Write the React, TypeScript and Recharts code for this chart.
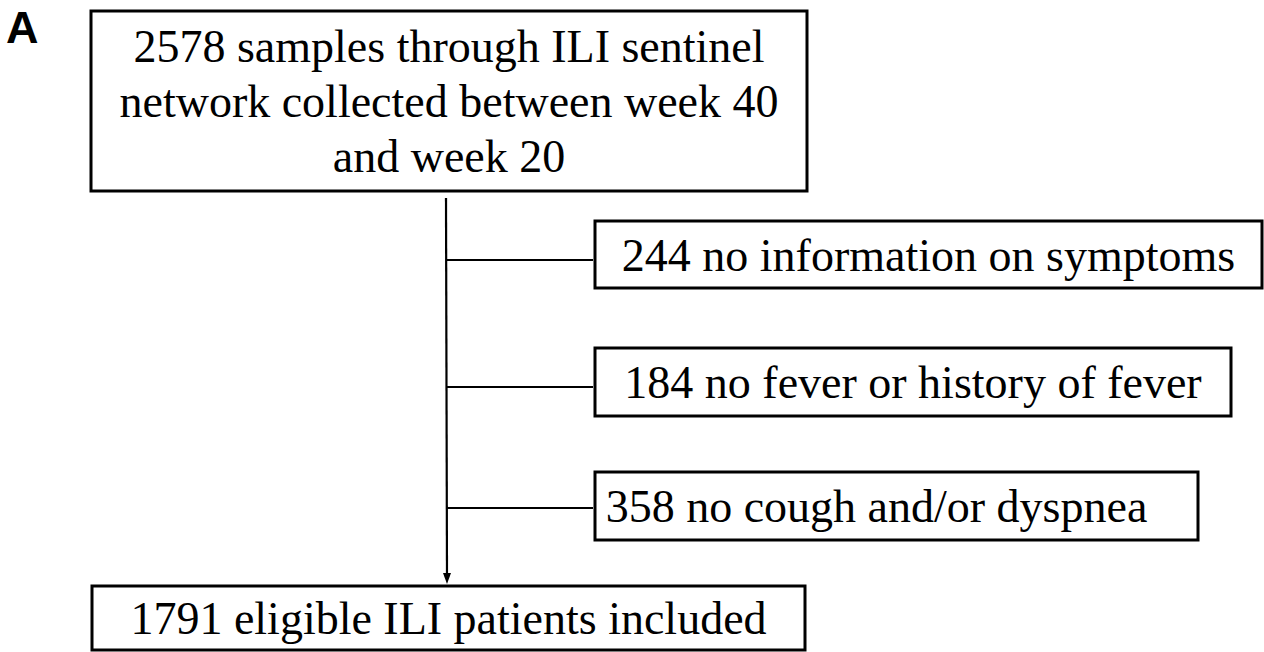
/**
 * IliFlowChart — participant flow diagram (panel A) drawn on a Recharts canvas.
 *
 * Boxes are ReferenceAreas, connectors are ReferenceLine segments, all placed
 * in a pixel-like data space through hidden number axes.
 */

import React from "react";
import {
  ComposedChart,
  XAxis,
  YAxis,
  ReferenceArea,
  ReferenceLine,
  ReferenceDot,
} from "recharts";

const WIDTH = 1264;
const HEIGHT = 652;

// ---- data -----------------------------------------------------------------
const PANEL_LABEL = "A";
const SOURCE_COUNT = 2578;
const SOURCE_TEXT = [
  "samples through ILI sentinel",
  "network collected between week 40",
  "and week 20",
];
const EXCLUDED_COUNTS = [244, 184, 358];
const EXCLUDED_REASONS = [
  "no information on symptoms",
  "no fever or history of fever",
  "no cough and/or dyspnea",
];
const INCLUDED_COUNT = 1791;
const INCLUDED_TEXT = "eligible ILI patients included";

// ---- layout (data space = pixels) ------------------------------------------
const TOP_BOX = { x1: 91, x2: 807, y1: 11, y2: 191 };
const BOTTOM_BOX = { x1: 92, x2: 805, y1: 586, y2: 650 };
const SIDE_BOXES = [
  { x1: 595, x2: 1262, y1: 221, y2: 288, branchY: 260, dx: 0 },
  { x1: 595, x2: 1231, y1: 348, y2: 416, branchY: 387, dx: 0 },
  { x1: 595, x2: 1198, y1: 472, y2: 540, branchY: 508, dx: -20 },
];
const TRUNK_X = 446;
const TRUNK_TOP = 198;
const ARROW_TIP = 584;
const BRANCH_END = 593;

const SERIF = "'Liberation Serif', 'Times New Roman', serif";
const FONT_SIZE = 46;
const LINE_GAP = 55;

type ViewBox = { x: number; y: number; width: number; height: number };

function BoxText({ viewBox, lines, dx = 0 }: { viewBox?: ViewBox; lines: string[]; dx?: number }) {
  if (!viewBox) return null;
  const cx = viewBox.x + viewBox.width / 2 + dx;
  const cy = viewBox.y + viewBox.height / 2;
  return (
    <text
      textAnchor="middle"
      style={{ fontFamily: SERIF, fontSize: FONT_SIZE }}
      fill="#000"
    >
      {lines.map((l, i) => (
        <tspan key={i} x={cx} y={cy + (i - (lines.length - 1) / 2) * LINE_GAP + 16}>
          {l}
        </tspan>
      ))}
    </text>
  );
}

function ArrowLine(props: any) {
  const { x1, y1, x2, y2 } = props;
  return (
    <g>
      <line x1={x1} y1={y1} x2={x2} y2={y2 - 6} stroke="#000" strokeWidth={2.2} />
      <polygon points={`${x2 - 4},${y2 - 11} ${x2 + 4},${y2 - 11} ${x2},${y2}`} fill="#000" />
    </g>
  );
}

const boxStyle = { fill: "#fff", fillOpacity: 1, stroke: "#000", strokeWidth: 3 };

export default function App() {
  const sourceLines = [`${SOURCE_COUNT} ${SOURCE_TEXT[0]}`, ...SOURCE_TEXT.slice(1)];

  return (
    <div style={{ width: WIDTH, height: HEIGHT, background: "#fff" }}>
      <style>{`body{margin:0}`}</style>
      <ComposedChart
        width={WIDTH}
        height={HEIGHT}
        data={[]}
        margin={{ top: 0, right: 0, bottom: 0, left: 0 }}
      >
        <XAxis type="number" dataKey="x" domain={[0, WIDTH]} hide allowDataOverflow />
        <YAxis type="number" dataKey="y" domain={[0, HEIGHT]} reversed hide allowDataOverflow />

        <ReferenceDot
          x={6}
          y={43}
          r={0}
          fill="none"
          stroke="none"
          label={(p: any) => (
            <text
              x={p.viewBox.x}
              y={p.viewBox.y}
              style={{
                fontFamily: "'Liberation Sans', Arial, sans-serif",
                fontWeight: 700,
                fontSize: 45,
              }}
              fill="#000"
            >
              {PANEL_LABEL}
            </text>
          )}
        />

        {/* trunk with arrow */}
        <ReferenceLine
          segment={[
            { x: TRUNK_X, y: TRUNK_TOP },
            { x: TRUNK_X + 1, y: ARROW_TIP },
          ]}
          shape={ArrowLine}
        />

        {/* branches */}
        {SIDE_BOXES.map((b, i) => (
          <ReferenceLine
            key={`br-${i}`}
            segment={[
              { x: TRUNK_X + 1, y: b.branchY },
              { x: BRANCH_END, y: b.branchY },
            ]}
            stroke="#000"
            strokeWidth={2.2}
          />
        ))}

        <ReferenceArea
          {...TOP_BOX}
          {...boxStyle}
          label={(p: any) => <BoxText viewBox={p.viewBox} lines={sourceLines} />}
        />

        {SIDE_BOXES.map((b, i) => (
          <ReferenceArea
            key={`sb-${i}`}
            x1={b.x1}
            x2={b.x2}
            y1={b.y1}
            y2={b.y2}
            {...boxStyle}
            label={(p: any) => (
              <BoxText
                viewBox={p.viewBox}
                dx={b.dx}
                lines={[`${EXCLUDED_COUNTS[i]} ${EXCLUDED_REASONS[i]}`]}
              />
            )}
          />
        ))}

        <ReferenceArea
          {...BOTTOM_BOX}
          {...boxStyle}
          label={(p: any) => (
            <BoxText viewBox={p.viewBox} lines={[`${INCLUDED_COUNT} ${INCLUDED_TEXT}`]} />
          )}
        />
      </ComposedChart>
    </div>
  );
}
